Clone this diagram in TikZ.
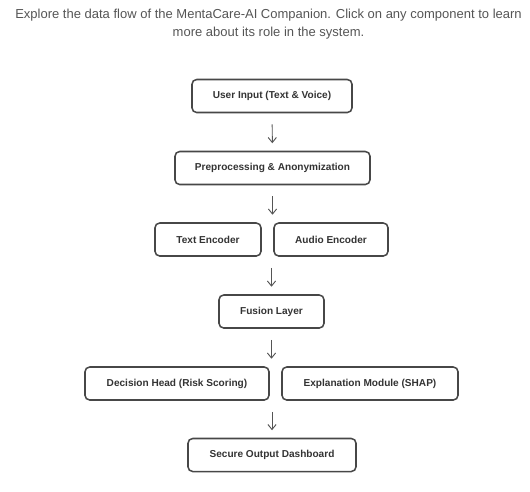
\documentclass[tikz,border=0pt]{standalone}
\usepackage{fontspec}
\setmainfont{Liberation Sans}
\usepackage{tikz}
\usetikzlibrary{arrows.meta, positioning}
\definecolor{boxline}{HTML}{474747}
\definecolor{boxtext}{HTML}{333333}
\definecolor{introtext}{HTML}{555555}

\begin{document}
\begin{tikzpicture}[x=0.03cm, y=-0.03cm,
    stage/.style={draw=boxline, line width=1.3pt, rounded corners=4pt,
                  minimum height=0.99cm, inner sep=0pt, text=boxtext,
                  font=\fontsize{8.6}{10}\selectfont\bfseries},
    flow/.style={-{Straight Barb[length=4.3pt, width=7pt]}, introtext, line width=0.8pt,
                 shorten <=9.4pt, shorten >=6.4pt}]
  \useasboundingbox (0,0) rectangle (530,491);
  \clip (0,0) rectangle (530,491);
  % Intro text
  \node[introtext, font=\fontsize{11.1}{15.3}\selectfont, align=center, anchor=base]
    (intro) at (268.5,36) {Explore the data flow of the MentaCare-AI Companion. Click on any component to learn\\
    more about its role in the system.};
  % Pipeline stages
  \node[stage, minimum width=4.8cm]  (input)  at (272,96)     {User Input (Text \& Voice)};
  \node[stage, minimum width=5.85cm] (prep)   at (272.5,168)  {Preprocessing \& Anonymization};
  \node[stage, minimum width=3.18cm] (txtenc) at (208,239.5)  {Text Encoder};
  \node[stage, minimum width=3.42cm] (audenc) at (331,239.5)  {Audio Encoder};
  \node[stage, minimum width=3.15cm] (fusion) at (271.5,311.5) {Fusion Layer};
  \node[stage, minimum width=5.52cm] (decide) at (177,383.5)  {Decision Head (Risk Scoring)};
  \node[stage, minimum width=5.28cm] (explain) at (370,383.5) {Explanation Module (SHAP)};
  \node[stage, minimum width=5.04cm] (output) at (272,455)    {Secure Output Dashboard};
  % Arrows between stages
  \draw[flow] (input) -- (prep);
  \draw[flow] (prep.south) -- (prep.south |- txtenc.north);
  \draw[flow] (fusion.north |- txtenc.south) -- (fusion.north);
  \draw[flow] (fusion.south) -- (fusion.south |- decide.north);
  \draw[flow] (output.north |- decide.south) -- (output.north);
\end{tikzpicture}
\end{document}
